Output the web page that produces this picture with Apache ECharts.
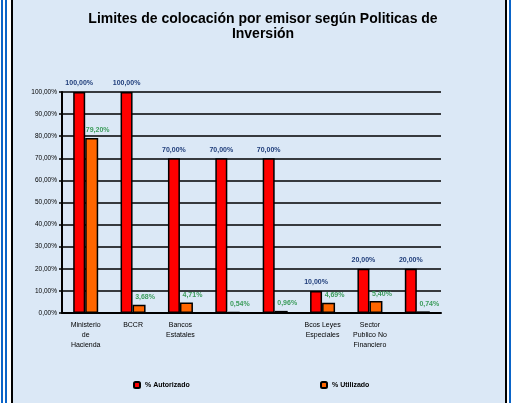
<!DOCTYPE html>
<html>
<head>
<meta charset="utf-8">
<style>
  html, body { margin: 0; padding: 0; background: #ffffff; }
  #chart { width: 513px; height: 403px; }
</style>
<script src="https://cdn.jsdelivr.net/npm/echarts@6/dist/echarts.min.js"></script>
</head>
<body>
<div id="chart"></div>
<script>
  // datos
  var categorias = ['Ministerio\nde\nHacienda', 'BCCR', 'Bancos\nEstatales', '', '', 'Bcos Leyes\nEspeciales', 'Sector\nPublico No\nFinanciero', ''];
  var autorizado = [100, 100, 70, 70, 70, 10, 20, 20];
  var utilizado = [79.20, 3.68, 4.71, 0.54, 0.96, 4.69, 5.40, 0.74];
  var ticksY = [0, 10, 20, 30, 40, 50, 60, 70, 80, 90, 100];

  var chart = echarts.init(document.getElementById('chart'));

  function pct(v) {
    return v.toFixed(2).replace('.', ',') + '%';
  }

  var option = {
    backgroundColor: 'transparent',
    textStyle: { fontFamily: 'Liberation Sans, Arial, sans-serif' },
    graphic: [
      { type: 'rect', shape: { x: 1, y: 0, width: 2, height: 403 }, style: { fill: '#0a64c8' } },
      { type: 'rect', shape: { x: 5, y: 0, width: 2, height: 403 }, style: { fill: '#0a64c8' } },
      { type: 'rect', shape: { x: 509, y: 0, width: 2, height: 403 }, style: { fill: '#0a64c8' } },
      {
        type: 'rect', z: -10,
        shape: { x: 12, y: -12, width: 494, height: 427, r: 12 },
        style: { fill: '#dbe8f6', stroke: '#000', lineWidth: 2 }
      }
    ],
    title: {
      text: 'Limites de colocación por emisor según Politicas de\nInversión',
      left: 258,
      top: 7,
      textAlign: 'center',
      textStyle: { fontSize: 14, fontWeight: 'bold', color: '#000', lineHeight: 15 }
    },
    legend: [
      {
        data: ['% Autorizado'], left: 128, top: 376,
        itemWidth: 6, itemHeight: 6, itemGap: 4,
        textStyle: { fontSize: 7, fontWeight: 'bold', color: '#000' }
      },
      {
        data: ['% Utilizado'], left: 315, top: 376,
        itemWidth: 6, itemHeight: 6, itemGap: 4,
        textStyle: { fontSize: 7, fontWeight: 'bold', color: '#000' }
      }
    ],
    grid: { left: 62, right: 72, top: 92, bottom: 90 },
    xAxis: {
      type: 'category',
      data: categorias,
      axisLine: { lineStyle: { color: '#000', width: 2 } },
      axisTick: { show: false },
      axisLabel: { fontSize: 7, color: '#000', lineHeight: 10, margin: 7, interval: 0 }
    },
    yAxis: {
      type: 'value',
      min: 0, max: 100, interval: 10,
      axisLine: { show: true, lineStyle: { color: '#000', width: 2 } },
      axisTick: { show: true, length: 3, lineStyle: { color: '#000', width: 1.5 } },
      splitLine: { lineStyle: { color: '#000', width: 1.5 } },
      axisLabel: {
        fontSize: 6.5, color: '#000', margin: 5,
        formatter: function (v) { return pct(v); }
      }
    },
    series: [
      {
        name: '% Autorizado',
        type: 'bar',
        data: autorizado,
        barWidth: 12,
        barGap: '0%',
        itemStyle: { color: '#ff0000', borderColor: '#000', borderWidth: 1.5 },
        label: {
          show: true, position: 'top', distance: 5,
          fontSize: 7, fontWeight: 'bold', color: '#1f3d7a',
          formatter: function (p) { return pct(p.value); }
        }
      },
      {
        name: '% Utilizado',
        type: 'bar',
        data: utilizado,
        barWidth: 13,
        itemStyle: { color: '#ff6600', borderColor: '#000', borderWidth: 1.5 },
        label: {
          show: true, position: 'top', distance: 4, offset: [6, 0],
          fontSize: 7, fontWeight: 'bold', color: '#3c9c5c',
          formatter: function (p) { return pct(p.value); }
        }
      }
    ]
  };

  chart.setOption(option);
</script>
</body>
</html>
